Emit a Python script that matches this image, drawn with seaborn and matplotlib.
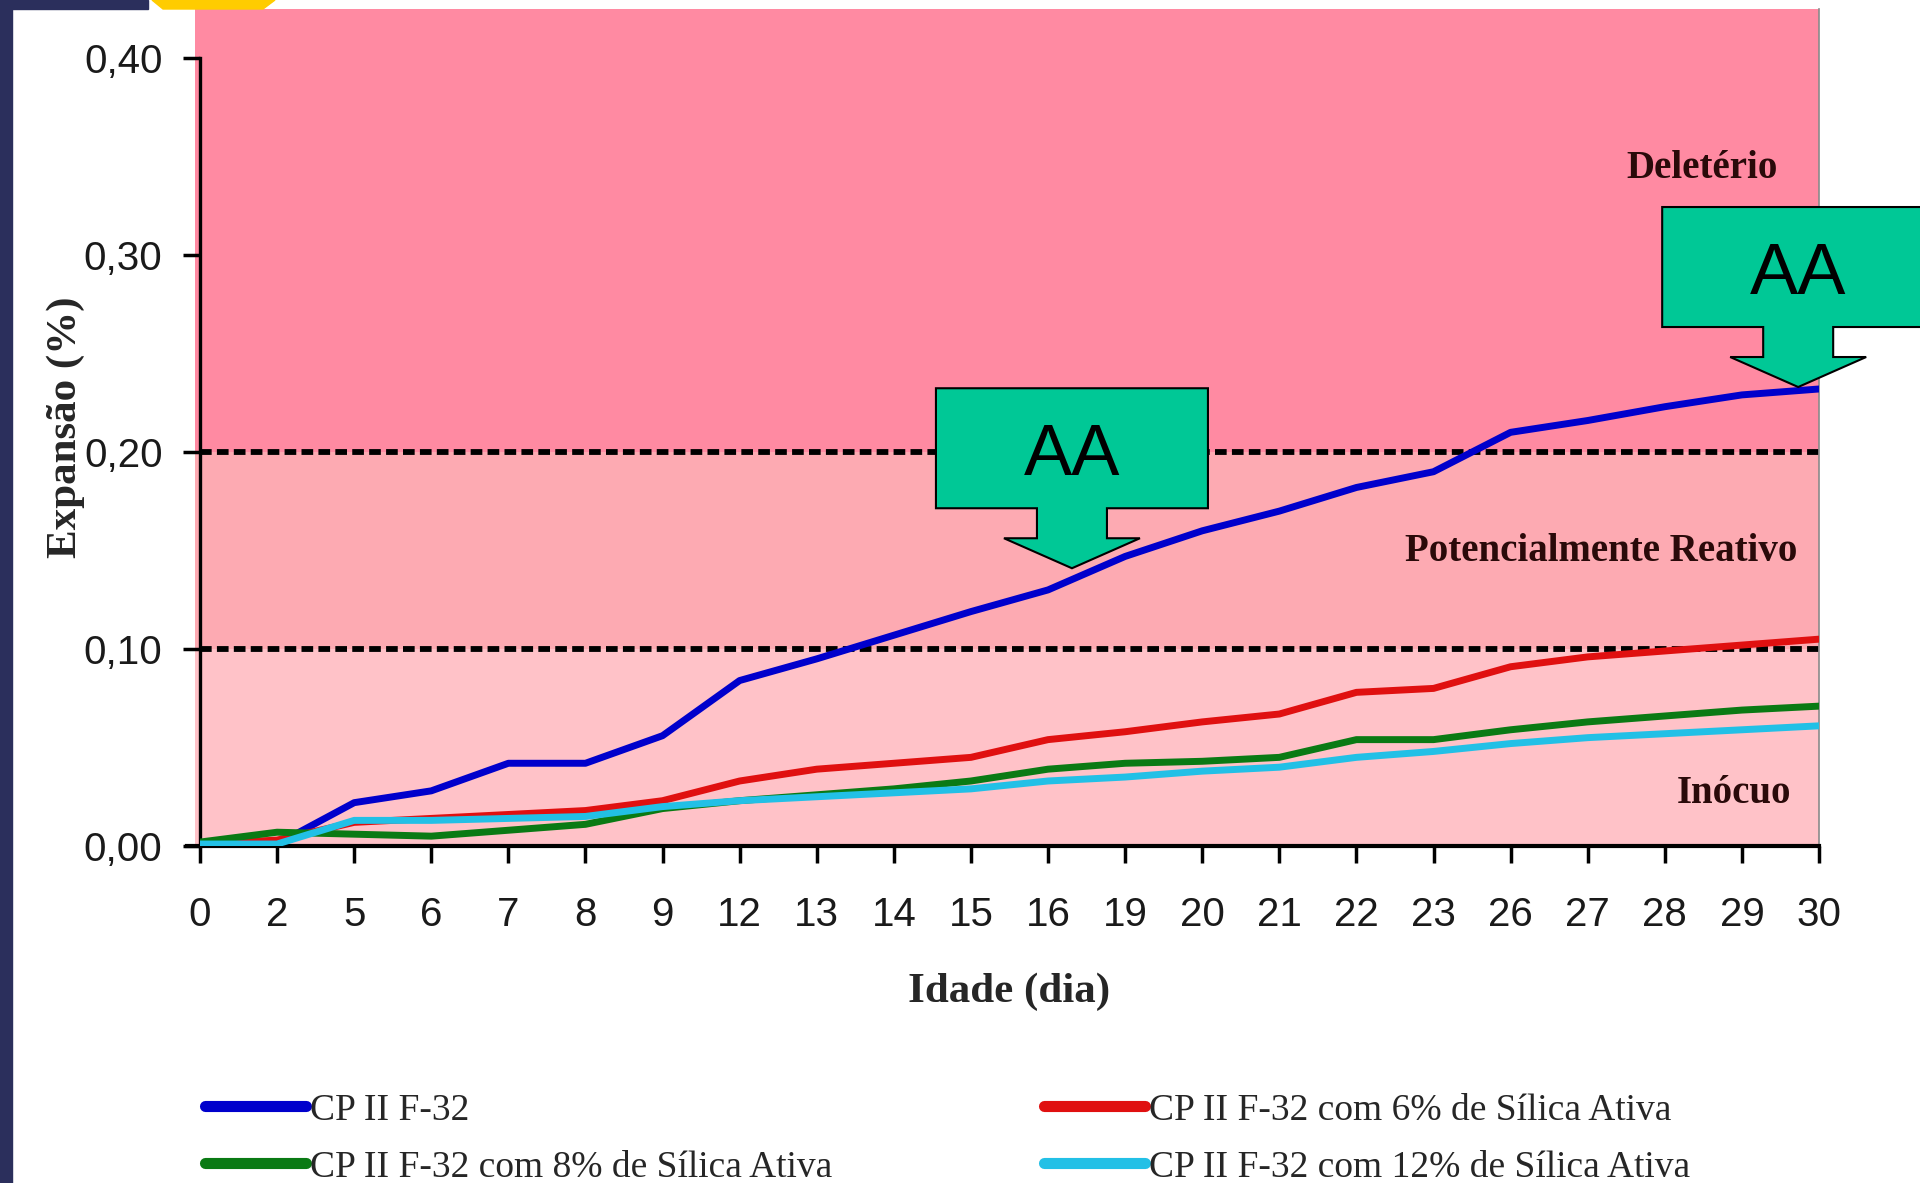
import numpy as np
import pandas as pd
import seaborn as sns
import matplotlib.pyplot as plt
from matplotlib.patches import Polygon, Rectangle
from matplotlib.transforms import IdentityTransform

# dados
dias = ["0", "2", "5", "6", "7", "8", "9", "12", "13", "14", "15",
        "16", "19", "20", "21", "22", "23", "26", "27", "28", "29", "30"]
cp_ref = [0.001, 0.001, 0.022, 0.028, 0.042, 0.042, 0.056, 0.084, 0.095, 0.107, 0.119,
          0.130, 0.147, 0.160, 0.170, 0.182, 0.190, 0.210, 0.216, 0.223, 0.229, 0.232]
cp_6 = [0.001, 0.003, 0.012, 0.014, 0.016, 0.018, 0.023, 0.033, 0.039, 0.042, 0.045,
        0.054, 0.058, 0.063, 0.067, 0.078, 0.080, 0.091, 0.096, 0.099, 0.102, 0.105]
cp_8 = [0.002, 0.007, 0.006, 0.005, 0.008, 0.011, 0.019, 0.023, 0.026, 0.029, 0.033,
        0.039, 0.042, 0.043, 0.045, 0.054, 0.054, 0.059, 0.063, 0.066, 0.069, 0.071]
cp_12 = [0.001, 0.001, 0.013, 0.013, 0.014, 0.015, 0.020, 0.023, 0.025, 0.027, 0.029,
         0.033, 0.035, 0.038, 0.040, 0.045, 0.048, 0.052, 0.055, 0.057, 0.059, 0.061]
series = ["CP II F-32",
          "CP II F-32 com 6% de Sílica Ativa",
          "CP II F-32 com 8% de Sílica Ativa",
          "CP II F-32 com 12% de Sílica Ativa"]
cores = ["#0000CC", "#E01010", "#0A7A14", "#22C0E6"]
y_ticks = [0.0, 0.1, 0.2, 0.3, 0.4]
y_labels = ["0,00", "0,10", "0,20", "0,30", "0,40"]
limites = [0.10, 0.20]
zonas = ["Inócuo", "Potencialmente Reativo", "Deletério"]

pos = np.arange(len(dias))
df = pd.DataFrame({
    "pos": np.tile(pos, 4),
    "expansao": cp_ref + cp_6 + cp_8 + cp_12,
    "serie": np.repeat(series, len(dias)),
})

sns.set_theme(style="white")
serif = ["Liberation Serif", "DejaVu Serif"]
narrow = ["Liberation Sans Narrow", "Liberation Sans", "DejaVu Sans"]
plt.rcParams["font.family"] = serif

fig = plt.figure(figsize=(19.2, 11.83), dpi=100)
fig.patch.set_facecolor("white")
ax = fig.add_axes([200 / 1920, 337 / 1183, 1619 / 1920, 837 / 1183])
ax.set_xlim(0, len(dias) - 1)
ax.set_ylim(0, 0.4249)

# faixas de classificacao
lx = -5 / 1619
ax.axhspan(0.0, 0.10, xmin=lx, color="#FFC2C8", zorder=0, clip_on=False, lw=0)
ax.axhspan(0.10, 0.20, xmin=lx, color="#FDAAB2", zorder=0, clip_on=False, lw=0)
ax.axhspan(0.20, 0.4249, xmin=lx, color="#FF8AA2", zorder=0, clip_on=False, lw=0)
for lim in limites:
    ax.axhline(lim, color="black", lw=4.2, linestyle=(0, (2.0, 0.9)),
               dash_capstyle="butt", zorder=1)

sns.lineplot(data=df, x="pos", y="expansao", hue="serie", hue_order=series,
             palette=cores, linewidth=5, ax=ax, zorder=3)

# eixos
ax.spines["top"].set_visible(False)
ax.spines["right"].set_color("#8a8a8a")
ax.spines["right"].set_linewidth(1.2)
ax.spines["left"].set_color("black")
ax.spines["left"].set_linewidth(2.4)
ax.spines["left"].set_bounds(0, 0.4)
ax.spines["bottom"].set_color("black")
ax.spines["bottom"].set_linewidth(3)
ax.spines["bottom"].set_bounds(-0.17, len(dias) - 1)
ax.tick_params(axis="both", direction="out", length=12, width=2.5,
               color="black", bottom=True, left=True)
ax.tick_params(axis="x", pad=24)
ax.tick_params(axis="y", pad=15)
ax.set_xticks(pos)
ax.set_xticklabels(dias, fontsize=29, fontfamily=narrow, color="#1a1a1a")
ax.set_yticks(y_ticks)
ax.set_yticklabels(y_labels, fontsize=29, fontfamily=narrow, color="#1a1a1a")

ax.set_xlabel("Idade (dia)", fontsize=31, fontweight="bold", labelpad=28)
ax.set_ylabel("Expansão (%)", fontsize=31, fontweight="bold")
ax.yaxis.set_label_coords(-0.071, 0.5)

ax.text(20.47, 0.3437, zonas[2], ha="right", va="center", fontsize=28,
        fontweight="bold", color="#2a0a0a", zorder=4)
ax.text(20.72, 0.1497, zonas[1], ha="right", va="center", fontsize=28,
        fontweight="bold", color="#2a0a0a", zorder=4)
ax.text(20.64, 0.0268, zonas[0], ha="right", va="center", fontsize=28,
        fontweight="bold", color="#2a0a0a", zorder=4)

# legenda em duas colunas
handles, labels = ax.get_legend_handles_labels()
ax.get_legend().remove()
hmap = dict(zip(labels, handles))
for cols, xa in [([series[0], series[2]], 205 / 1920), ([series[1], series[3]], 1044 / 1920)]:
    leg = fig.legend([hmap[c] for c in cols], cols, loc="upper left",
                     bbox_to_anchor=(xa, 0.076), frameon=False, fontsize=27,
                     handlelength=2.7, handletextpad=0.1, labelspacing=0.6,
                     borderpad=0, borderaxespad=0)
    for ln in leg.get_lines():
        ln.set_linewidth(8)


# setas "AA"
def callout(xd, yd, txt):
    tx, ty = ax.transData.transform((xd, yd))
    shape = [(0, 0), (-68, 30), (-35, 30), (-35, 60), (-136, 60), (-136, 180),
             (136, 180), (136, 60), (35, 60), (35, 30), (68, 30)]
    pts = [(tx + dx, ty + dy) for dx, dy in shape]
    fig.add_artist(Polygon(pts, closed=True, facecolor="#00C896", edgecolor="black",
                           lw=1.5, transform=IdentityTransform(), zorder=10))
    fig.text(tx, ty + 112, txt, transform=IdentityTransform(), ha="center",
             va="center", fontsize=52, fontfamily=["Liberation Sans", "DejaVu Sans"],
             color="black", zorder=11)


callout(11.31, 0.141, "AA")
callout(20.73, 0.233, "AA")

# moldura do slide
fig.add_artist(Rectangle((0, 0), 12 / 1920, 1, transform=fig.transFigure,
                         color="#2B2F5C", zorder=12))
fig.add_artist(Rectangle((0, 1 - 9 / 1183), 148 / 1920, 9 / 1183,
                         transform=fig.transFigure, color="#2B2F5C", zorder=12))
fig.add_artist(Polygon([(152 / 1920, 1), (275 / 1920, 1), (263 / 1920, 1 - 9 / 1183),
                        (163 / 1920, 1 - 9 / 1183)], closed=True,
                       transform=fig.transFigure, color="#FFCC00", zorder=12))

fig.savefig("out.png", dpi=100)
